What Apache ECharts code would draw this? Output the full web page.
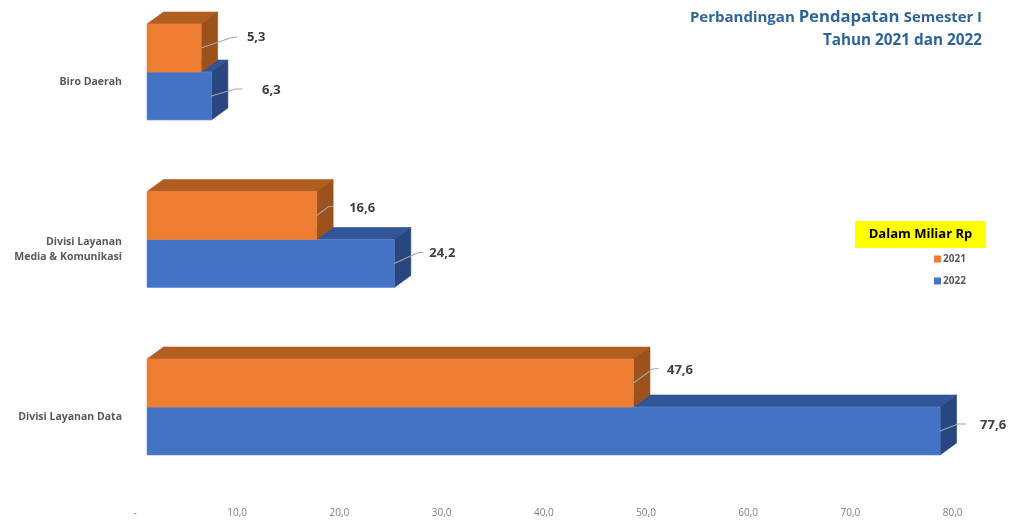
<!DOCTYPE html>
<html>
<head>
<meta charset="utf-8">
<style>html,body{margin:0;padding:0;background:#fff}#c{width:1010px;height:522px}</style>
<script src="https://cdn.jsdelivr.net/npm/echarts@6/dist/echarts.min.js"></script>
</head>
<body>
<div id="c"></div>
<script>
var categories = ['Divisi Layanan Data', 'Divisi Layanan\nMedia & Komunikasi', 'Biro Daerah'];
var values2021 = [47.6, 16.6, 5.3];
var values2022 = [77.6, 24.2, 6.3];
var tickLabels = ['-', '10,0', '20,0', '30,0', '40,0', '50,0', '60,0', '70,0', '80,0'];

// hand-placed leader lines and labels, in pixels from the bar's end
var leader2021 = [[[19,-14],[25,-14.5],[46.5,-13]], [[12,-9],[17,-9],[45.5,-7.5]], [[29,-10],[36,-11],[55,-11]]];
var leader2022 = [[[18,-7],[26,-7],[53,-6]], [[24,-11],[29,-11],[48,-10]], [[24,-7],[31,-7],[60,-6]]];

var FONT = '"Open Sans", sans-serif';
var DX = 16.5, DY = -12, BAR_SHARE = 48 / 167.5;

function poly(points, fill, stroke) {
  return { type: 'polygon', shape: { points: points },
    style: { fill: fill, stroke: stroke || fill, lineWidth: 0.6 } };
}

function barRenderer(side, colors, leaders) {
  return function (params, api) {
    var i = api.value(1);
    var end = api.coord([api.value(0), i]);
    var start = api.coord([0, i]);
    var h = api.size([0, 1])[1] * BAR_SHARE;
    var x0 = start[0], x1 = end[0];
    var yTop = side < 0 ? end[1] - h : end[1];
    var yBot = yTop + h;
    var yMid = (yTop + yBot) / 2;
    var l = leaders[i];
    return { type: 'group', children: [
      poly([[x0, yTop], [x0 + DX, yTop + DY], [x1 + DX, yTop + DY], [x1, yTop]], colors.top),
      poly([[x1, yTop], [x1 + DX, yTop + DY], [x1 + DX, yBot + DY], [x1, yBot]], colors.side),
      poly([[x0, yTop], [x1, yTop], [x1, yBot], [x0, yBot]], colors.front, colors.edge),
      { type: 'polyline', shape: { points: [[x1, yMid], [x1 + l[0][0], yMid + l[0][1]], [x1 + l[1][0], yMid + l[1][1]]] },
        style: { stroke: '#a6a6a6', lineWidth: 1.1, fill: 'none' } },
      { type: 'text', style: { x: x1 + l[2][0], y: yMid + l[2][1],
          text: api.value(0).toFixed(1).replace('.', ','), align: 'center', verticalAlign: 'middle',
          font: 'bold 13px ' + FONT, fill: '#404040' } }
    ] };
  };
}

var orange = { front: '#ED7D31', top: '#B15E22', side: '#9C521C', edge: '#EF8540' };
var blue = { front: '#4472C4', top: '#325597', side: '#284781', edge: '#6289D3' };
var TITLE = '#2E6499';

var option = {
  animation: false,
  backgroundColor: '#fff',
  textStyle: { fontFamily: FONT },
  title: [
    { text: '{a|Perbandingan }{b|Pendapatan }{c|Semester I}', right: 28, top: 9, padding: 0,
      textStyle: { color: TITLE, fontFamily: FONT, rich: {
        a: { fontSize: 15, fontWeight: 'bold', color: TITLE, fontFamily: FONT },
        b: { fontSize: 16.7, fontWeight: 'bold', color: TITLE, fontFamily: FONT },
        c: { fontSize: 14.8, fontWeight: 'bold', color: TITLE, fontFamily: FONT } } } },
    { text: 'Tahun 2021 dan 2022', right: 28, top: 33, padding: 0,
      textStyle: { color: TITLE, fontFamily: FONT, fontSize: 15.3, fontWeight: 'bold' } }
  ],
  legend: {
    data: ['2021', '2022'], orient: 'vertical', left: 929, top: 249, itemWidth: 7, itemHeight: 7, itemGap: 12,
    icon: 'rect', textStyle: { color: '#595959', fontFamily: FONT, fontSize: 10, fontWeight: 'bold', padding: [0, 0, 0, -3] }
  },
  grid: [
    { left: 147, top: 72, width: 817.6, height: 335 },
    { left: 135, top: 82, width: 817.6, height: 335 }
  ],
  xAxis: [
    { type: 'value', gridIndex: 0, min: 0, max: 80, show: false },
    { type: 'value', gridIndex: 1, min: 0, max: 80, interval: 10,
      axisLine: { show: false }, axisTick: { show: false }, splitLine: { show: false },
      axisLabel: { margin: 91.5, color: '#7f7f7f', fontSize: 10, fontFamily: FONT,
        formatter: function (v) { return tickLabels[v / 10]; } } }
  ],
  yAxis: [
    { type: 'category', gridIndex: 0, boundaryGap: false, data: categories, show: false },
    { type: 'category', gridIndex: 1, boundaryGap: false, data: categories,
      axisLine: { show: false }, axisTick: { show: false }, splitLine: { show: false },
      axisLabel: { margin: 13, color: '#595959', fontSize: 10.5, fontWeight: 'bold', lineHeight: 15, fontFamily: FONT, align: 'right' } }
  ],
  series: [
    { name: '2022', type: 'custom', xAxisIndex: 0, yAxisIndex: 0, clip: false, itemStyle: { color: blue.front },
      encode: { x: 0, y: 1 }, data: values2022.map(function (v, i) { return [v, i]; }),
      renderItem: barRenderer(1, blue, leader2022) },
    { name: '2021', type: 'custom', xAxisIndex: 0, yAxisIndex: 0, clip: false, itemStyle: { color: orange.front },
      encode: { x: 0, y: 1 }, data: values2021.map(function (v, i) { return [v, i]; }),
      renderItem: barRenderer(-1, orange, leader2021) }
  ],
  graphic: [
    { type: 'rect', shape: { x: 855, y: 221, width: 131, height: 27 }, style: { fill: '#ffff00' } },
    { type: 'text', style: { x: 920.5, y: 234.5, text: 'Dalam Miliar Rp', align: 'center', verticalAlign: 'middle',
        font: 'bold 13px ' + FONT, fill: '#000' } }
  ]
};
echarts.init(document.getElementById('c'), null, { renderer: 'canvas' }).setOption(option);
</script>
</body>
</html>
